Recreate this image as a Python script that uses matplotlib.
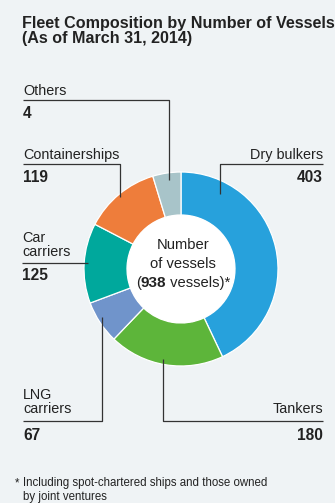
import matplotlib
matplotlib.use("Agg")
import matplotlib.pyplot as plt
from matplotlib.patches import Circle

plt.rcParams["font.family"] = ["Liberation Sans", "DejaVu Sans"]

# Fleet composition, number of vessels by type (clockwise from the top)
categories = ["Dry bulkers", "Tankers", "LNG\ncarriers", "Car\ncarriers", "Containerships", "Others"]
vessels = [403, 180, 67, 125, 119, 44]
value_labels = ["403", "180", "67", "125", "119", "4"]
total_vessels = 938
colors = ["#27a1dc", "#5db53a", "#7094cb", "#00a89c", "#ee7d3b", "#a8c4c9"]

W, H = 335, 503
bg = "#eff3f5"
ink = "#222222"

fig = plt.figure(figsize=(W / 100, H / 100), dpi=100, facecolor=bg)
ax = fig.add_axes([0, 0, 1, 1])
ax.set_facecolor(bg)

cx, cy, r_out, r_in = 181, 269, 97, 54

# y axis is inverted below, so angles run clockwise on screen
ax.pie(vessels, colors=colors, startangle=-90, counterclock=True,
       center=(cx, cy), radius=r_out,
       wedgeprops=dict(width=r_out - r_in, edgecolor="white", linewidth=0.9))
ax.add_patch(Circle((cx, cy), r_in, facecolor="white", edgecolor="none", zorder=3))

ax.set_xlim(0, W)
ax.set_ylim(H, 0)
ax.set_aspect("equal")
ax.axis("off")

# title
ax.text(22, 23, "Fleet Composition by Number of Vessels", fontsize=11.6,
        fontweight="bold", color=ink, va="center", ha="left")
ax.text(22, 38, "(As of March 31, 2014)", fontsize=11.6,
        fontweight="bold", color=ink, va="center", ha="left")

lab_fs = 10.4
val_fs = 11.2
lw = 0.9


def leader(points):
    xs, ys = zip(*points)
    ax.plot(xs, ys, color="#333333", lw=lw, solid_capstyle="butt")


# (value index, text x, name y, rule y, value y, align, leader points)
label_specs = [
    (5, 23, 91, 100, 113, "left", [(23, 100), (169, 100), (169, 180)]),
    (4, 23, 155, 164, 177, "left", [(23, 164), (120, 164), (120, 197)]),
    (0, 323, 155, 164, 177, "right", [(323, 164), (220, 164), (220, 194)]),
    (3, 22, 245, 263, 276, "left", [(22, 263), (88, 263)]),
    (2, 23, 402, 421, 435, "left", [(23, 421), (102, 421), (102, 317)]),
    (1, 323, 409, 421, 435, "right", [(323, 421), (163, 421), (163, 359)]),
]
for i, tx, ny, ry, vy, ha, pts in label_specs:
    ax.text(tx, ny, categories[i], fontsize=lab_fs, color=ink, ha=ha, va="center",
            linespacing=1.05)
    ax.text(tx, vy, value_labels[i], fontsize=val_fs, fontweight="bold",
            color=ink, ha=ha, va="center")
    leader(pts)

# centre caption
cap_fs = 10.6
ax.text(cx + 2, 245, "Number", fontsize=cap_fs, color=ink, ha="center",
        va="center", zorder=4)
ax.text(cx + 2, 264, "of vessels", fontsize=cap_fs, color=ink, ha="center",
        va="center", zorder=4)

parts = [("(", "normal", cap_fs),
         (f"{total_vessels}", "bold", cap_fs + 0.4),
         (" vessels)*", "normal", cap_fs)]
renderer = fig.canvas.get_renderer()
texts = []
for s, w, fs in parts:
    t = ax.text(0, 283, s, fontsize=fs, fontweight=w, color=ink,
                ha="left", va="center", zorder=4)
    texts.append(t)
widths = [t.get_window_extent(renderer).width for t in texts]
x = cx + 2 - sum(widths) / 2
for t, w in zip(texts, widths):
    t.set_x(x)
    x += w

# footnote
foot_fs = 8.3
ax.text(15, 483, "*", fontsize=foot_fs, color=ink, ha="left", va="center")
ax.text(23, 483, "Including spot-chartered ships and those owned",
        fontsize=foot_fs, color=ink, ha="left", va="center")
ax.text(23, 497, "by joint ventures", fontsize=foot_fs, color=ink,
        ha="left", va="center")

fig.savefig("out.png", dpi=100, facecolor=bg)
